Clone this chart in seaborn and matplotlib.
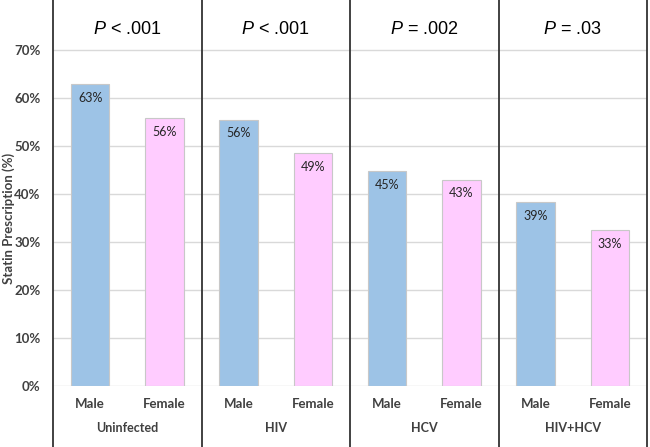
import seaborn as sns
import pandas as pd
import matplotlib.pyplot as plt
import matplotlib.transforms as mtransforms

# Values
groups = ["Uninfected", "HIV", "HCV", "HIV+HCV"]
sexes = ["Male", "Female"]
male_pct = [62.8, 55.5, 44.8, 38.4]
female_pct = [55.8, 48.5, 43.0, 32.4]
male_labels = ["63%", "56%", "45%", "39%"]
female_labels = ["56%", "49%", "43%", "33%"]
p_values = ["< .001", "< .001", "= .002", "= .03"]
y_ticks = [0, 10, 20, 30, 40, 50, 60, 70]

rows = []
for i, g in enumerate(groups):
    rows.append({"slot": f"{g} Male", "sex": "Male", "pct": male_pct[i], "label": male_labels[i]})
    rows.append({"slot": f"{g} Female", "sex": "Female", "pct": female_pct[i], "label": female_labels[i]})
df = pd.DataFrame(rows)

sns.set_style("white")
plt.rcParams["font.family"] = ["Lato", "DejaVu Sans"]
plt.rcParams["mathtext.fontset"] = "custom"
plt.rcParams["mathtext.it"] = "Liberation Sans:italic"
plt.rcParams["mathtext.rm"] = "Liberation Sans"

fig = plt.figure(figsize=(6.5, 4.47), dpi=100)
ax = fig.add_axes([53 / 650, 61 / 447, 594 / 650, 386 / 447])

sns.barplot(data=df, x="slot", y="pct", hue="sex", order=df["slot"].tolist(),
            palette={"Male": "#9dc3e6", "Female": "#ffccff"}, dodge=False, saturation=1,
            width=0.52, edgecolor="#c8c8c8", linewidth=0.8, legend=False, ax=ax)

ax.set_xlim(-0.5, 7.5)
ax.set_ylim(0, 80.4)
ax.set_yticks(y_ticks)
ax.set_yticklabels([f"{t}%" for t in y_ticks])
ax.set_xticks(range(8))
ax.set_xticklabels(sexes * 4)
ax.set_xlabel("")
ax.set_ylabel("")
ax.tick_params(axis="both", length=0, labelsize=9.5, labelcolor="#404040")
ax.tick_params(axis="x", pad=9)
ax.tick_params(axis="y", pad=9)
for lab in ax.get_xticklabels() + ax.get_yticklabels():
    lab.set_fontweight("bold")

# y axis title placed by hand so it sits at the left edge like the original
fig.text(9 / 650, 1 - 218 / 447, "Statin Prescription (%)", rotation=90,
         ha="center", va="center", fontsize=9.5, fontweight="bold", color="#404040")

ax.grid(False)
for t in y_ticks:
    ax.axhline(t, color="#d9d9d9", lw=1, zorder=0)
for s in ax.spines.values():
    s.set_visible(False)

# bar labels
for i, row in df.iterrows():
    ax.text(i, row["pct"] - 2.9, row["label"], ha="center", va="center",
            fontsize=9, color="#262626")

trans = mtransforms.blended_transform_factory(ax.transData, ax.transAxes)
for x in [-0.5, 1.5, 3.5, 5.5, 7.5]:
    ax.plot([x, x], [-0.16, 1.0], transform=trans, color="#333333", lw=1.3, clip_on=False)

for k, g in enumerate(groups):
    cx = 2 * k + 0.5
    ax.text(cx, -0.109, g, transform=trans, ha="center", va="center",
            fontsize=9, fontweight="bold", color="#404040")
    ax.text(cx, 74.3, r"$\it{P}$ " + p_values[k], ha="center", va="center",
            fontsize=13, color="black", family="Liberation Sans")

fig.savefig("out.png", dpi=100)
